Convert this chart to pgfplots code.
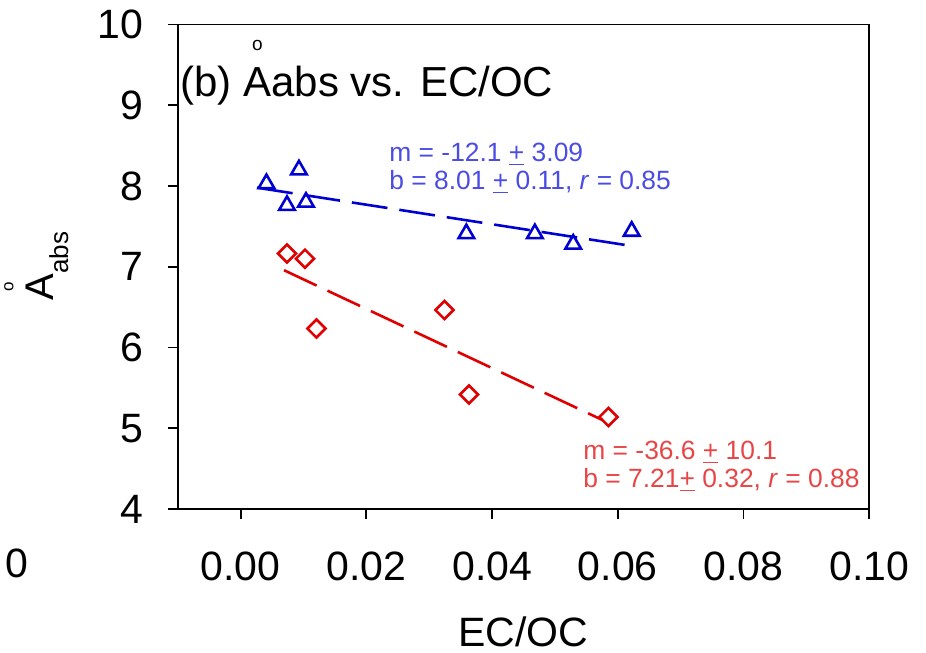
\documentclass[border=0pt]{standalone}
\usepackage{fontspec}
\setmainfont{Liberation Sans}
\usepackage{pgfplots}
\pgfplotsset{compat=1.18}
\definecolor{mblue}{RGB}{0,0,210}
\definecolor{tblue}{RGB}{75,75,230}
\definecolor{mred}{RGB}{225,0,0}
\definecolor{tred}{RGB}{232,70,70}
\newcommand\Aring[2]{\leavevmode\vbox{\offinterlineskip\halign{\hfil##\hfil\cr{\fontsize{#1}{#1}\selectfont o}\cr\noalign{\kern#2}A\cr}}}
\newcommand\pmu{\underline{+}}
\begin{document}
\begin{tikzpicture}
\useasboundingbox (0,0) rectangle (463pt,326.5pt);
\begin{axis}[at={(88.9pt,72pt)}, anchor=south west, scale only axis,
  width=345.75pt, height=242.25pt,
  xmin=-0.01, xmax=0.10, ymin=4, ymax=10,
  xtick={0,0.02,0.04,0.06,0.08,0.10}, ytick={4,5,6,7,8,9,10},
  scaled x ticks=false,
  tick align=outside, xtick pos=bottom, ytick pos=left,
  major tick length=5pt,
  axis line style={line width=0.9pt},
  every tick/.style={black, line width=0.9pt},
  tick label style={font=\fontsize{20.5}{24}\selectfont},
  /pgf/number format/assume math mode=true,
  x tick label style={/pgf/number format/fixed, /pgf/number format/fixed zerofill, /pgf/number format/precision=2, anchor=north, yshift=-12.7pt},
  y tick label style={anchor=east, xshift=-8.6pt},
]
\addplot[mblue, line width=1.3pt, dash pattern=on 18pt off 6pt] coordinates {(0.0026,7.979) (0.0624,7.255)};
\addplot[mred, line width=1.3pt, dash pattern=on 18pt off 6pt] coordinates {(0.0069,6.957) (0.0576,5.10)};
\addplot[only marks, mark=triangle, mark size=4.5pt, mblue, line width=1.3pt] coordinates {
(0.0041,8.03) (0.00927,8.20) (0.00737,7.76) (0.01039,7.80)
(0.0359,7.41) (0.0468,7.41) (0.0529,7.28) (0.0622,7.44)};
\addplot[only marks, mark=square, mark size=3.2pt, mred, line width=1.3pt, every mark/.append style={rotate=45}] coordinates {
(0.00737,7.164) (0.01023,7.10) (0.01206,6.235) (0.03242,6.464) (0.03632,5.418) (0.0585,5.139)};
\end{axis}
\node[anchor=base west, inner sep=0, font=\fontsize{21}{25}\selectfont] at (90pt,278pt) {(b) \Aring{9.5}{8.5pt}abs vs. EC/OC};
\node[rotate=90, anchor=base, inner sep=0, font=\fontsize{20}{24}\selectfont] at (26.5pt,193.5pt) {\Aring{8.5}{6pt}\raisebox{-7.5pt}{\fontsize{13}{15}\selectfont abs}};
\node[anchor=base west, inner sep=0, text=tblue, font=\fontsize{13.2}{15}\selectfont] at (194.5pt,245.5pt) {m = -12.1 \pmu{} 3.09};
\node[anchor=base west, inner sep=0, text=tblue, font=\fontsize{13.2}{15}\selectfont] at (194.5pt,231.5pt) {b = 8.01 \pmu{} 0.11, \textit{r} = 0.85};
\node[anchor=base west, inner sep=0, text=tred, font=\fontsize{13.2}{15}\selectfont] at (291.5pt,96.5pt) {m = -36.6 \pmu{} 10.1};
\node[anchor=base west, inner sep=0, text=tred, font=\fontsize{13.2}{15}\selectfont] at (291.5pt,82.5pt) {b = 7.21\pmu{} 0.32, \textit{r} = 0.88};
\node[anchor=base, inner sep=0, font=\fontsize{20.5}{24}\selectfont] at (261.5pt,3pt) {EC/OC};
\node[anchor=base west, inner sep=0, font=\fontsize{20.5}{24}\selectfont] at (2.5pt,37.5pt) {0};
\end{tikzpicture}
\end{document}
